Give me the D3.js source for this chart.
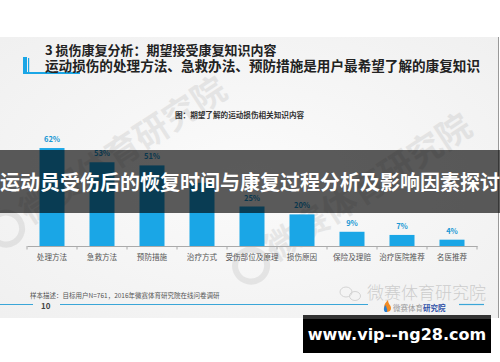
<!DOCTYPE html>
<html><head><meta charset="utf-8">
<script src="https://cdn.jsdelivr.net/npm/d3@7"></script>
<style>
html,body{margin:0;padding:0;background:#fff;}
svg{display:block;font-family:"Noto Sans CJK SC","Noto Sans",sans-serif;}
</style></head>
<body>
<svg id="c" width="500" height="362"></svg>
<script>
const categories = ["处理方法","急救方法","预防措施","治疗方式","受伤部位及原理","损伤原因","保险及理赔","治疗医院推荐","名医推荐"];
const values = [62,53,51,40,25,20,9,7,4];
const valueLabels = ["62%","53%","51%","","25%","20%","9%","7%","4%"];
const headTitle = "3 损伤康复分析：期望接受康复知识内容";
const headSub = "运动损伤的处理方法、急救办法、预防措施是用户最希望了解的康复知识";
const chartTitle = "图：期望了解的运动损伤相关知识内容";
const footnote = "样本描述：目标用户N=761，2016年微赛体育研究院在线问卷调研";
const pageNo = "10";
const watermark = "微赛体育研究院";
const bannerText = "运动员受伤后的恢复时间与康复过程分析及影响因素探讨";
const siteText = "www.vip--ng28.com";

const svg = d3.select("#c");
const blue = "#1aa6e6";

// slide background
const defs = svg.append("defs");
const g1 = defs.append("radialGradient").attr("id","bg").attr("cx","50%").attr("cy","50%").attr("r","70%");
g1.append("stop").attr("offset","0%").attr("stop-color","#fbfbfb");
g1.append("stop").attr("offset","100%").attr("stop-color","#f0f0f0");
svg.append("rect").attr("x",0).attr("y",37).attr("width",498).attr("height",281).attr("fill","url(#bg)");
svg.append("line").attr("x1",498.5).attr("x2",498.5).attr("y1",37).attr("y2",318).attr("stroke","#999").attr("stroke-width",1);

// watermarks (big diagonal)
function wm(x,y){
  const g = svg.append("g").attr("transform",`translate(${x},${y}) rotate(-33)`).attr("opacity",0.065);
  g.append("circle").attr("cx",-22).attr("cy",-10).attr("r",16).attr("fill","none").attr("stroke","#000").attr("stroke-width",6);
  g.append("text").attr("x",0).attr("y",0).attr("font-size",34).attr("font-weight",700).attr("fill","#000").text(watermark);
}
wm(30,225);
wm(275,262);

// header
svg.append("rect").attr("x",23).attr("y",57).attr("width",4).attr("height",16).attr("fill",blue);
svg.append("rect").attr("x",28).attr("y",58).attr("width",1.2).attr("height",15).attr("fill",blue);
svg.append("rect").attr("x",23).attr("y",72).attr("width",57).attr("height",2).attr("fill",blue);
svg.append("text").attr("x",45).attr("y",55).attr("font-size",13).attr("font-weight",700).attr("fill","#222").text(headTitle);
svg.append("text").attr("x",45).attr("y",70.5).attr("font-size",13.6).attr("font-weight",700).attr("fill","#222").text(headSub);

// chart title
svg.append("text").attr("x",175).attr("y",118).attr("font-size",7.6).attr("font-weight",700).attr("fill","#333").text(chartTitle);

// scales
const x = d3.scaleBand().domain(categories).range([27,477]).paddingInner(0.5).paddingOuter(0.25);
const y = d3.scaleLinear().domain([0,100]).range([246,88]);

// bars
svg.append("g").selectAll("rect").data(values).join("rect")
  .attr("x",(d,i)=>x(categories[i])).attr("width",x.bandwidth())
  .attr("y",d=>y(d)).attr("height",d=>y(0)-y(d)).attr("fill",blue);

svg.append("g").selectAll("text").data(values).join("text")
  .attr("x",(d,i)=>x(categories[i])+x.bandwidth()/2).attr("y",d=>y(d)-6)
  .attr("text-anchor","middle").attr("font-size",7.5).attr("font-weight",700).attr("fill","#1a98d4")
  .text((d,i)=>valueLabels[i]);

// axis
const ax = svg.append("g").attr("transform","translate(0,246)")
  .call(d3.axisBottom(x).tickSize(0).tickPadding(9));
ax.select(".domain").attr("stroke","#aaa").attr("stroke-width",1);
ax.selectAll("text").attr("font-size",7.6).attr("fill","#555").attr("font-family","Noto Sans CJK SC");
const bounds = categories.map(c=>x(c)-x.step()*0.25).concat([x(categories[categories.length-1])+x.bandwidth()+x.step()*0.25]);
svg.append("g").selectAll("line").data(bounds).join("line")
  .attr("x1",d=>d).attr("x2",d=>d).attr("y1",246).attr("y2",249.5).attr("stroke","#aaa");

// footnote & footer
svg.append("text").attr("x",30).attr("y",297.5).attr("font-size",6.5).attr("fill","#555").text(footnote);
svg.append("line").attr("x1",0).attr("x2",33).attr("y1",304.5).attr("y2",304.5).attr("stroke","#3aa6d8").attr("stroke-width",1);
svg.append("line").attr("x1",60).attr("x2",368).attr("y1",304.5).attr("y2",304.5).attr("stroke","#3aa6d8").attr("stroke-width",1);
svg.append("line").attr("x1",459).attr("x2",484).attr("y1",304.5).attr("y2",304.5).attr("stroke","#3aa6d8").attr("stroke-width",1.2);
svg.append("text").attr("x",41).attr("y",308.5).attr("font-size",8).attr("font-weight",700).attr("fill","#444").text(pageNo);

// bottom-right watermark
const bw = svg.append("g").attr("opacity",0.35);
bw.append("ellipse").attr("cx",346).attr("cy",292).attr("rx",6).attr("ry",5).attr("fill","none").attr("stroke","#999").attr("stroke-width",1);
bw.append("ellipse").attr("cx",355).attr("cy",296).attr("rx",5.5).attr("ry",4.5).attr("fill","none").attr("stroke","#999").attr("stroke-width",1);
bw.append("text").attr("x",367).attr("y",299).attr("font-size",17).attr("font-weight",300).attr("fill","#888").text(watermark);
// small logo
svg.append("path").attr("d","M386,312 C382,307 385,303 388,300 C388,304 391,305 391,308 C391,311 389,312 386,312 Z").attr("fill","#f08a24");
svg.append("path").attr("d","M385,312 C383,309 384,307 386,305 C386,308 388,309 387,312 Z").attr("fill","#2a7fd0");
svg.append("text").attr("x",393).attr("y",311).attr("font-size",7.5).attr("fill","#999").text("微赛体育");
svg.append("text").attr("x",423).attr("y",311).attr("font-size",7.5).attr("font-weight",700).attr("fill","#2d4fa6").text("研究院");

// banner overlay
svg.append("rect").attr("x",0).attr("y",150).attr("width",500).attr("height",63).attr("fill","#000").attr("opacity",0.64);
svg.append("text").attr("x",250).attr("y",190).attr("text-anchor","middle").attr("font-size",20).attr("font-weight",700).attr("fill","#fff").text(bannerText);

// site box
svg.append("rect").attr("x",303).attr("y",315).attr("width",188).attr("height",38).attr("fill","#000");
svg.append("rect").attr("x",303).attr("y",315).attr("width",188).attr("height",4).attr("fill","#333");
svg.append("text").attr("x",397).attr("y",340).attr("text-anchor","middle").attr("font-family","DejaVu Sans").attr("font-size",16).attr("font-weight",700).attr("fill","#fff").text(siteText);
</script>
</body></html>
